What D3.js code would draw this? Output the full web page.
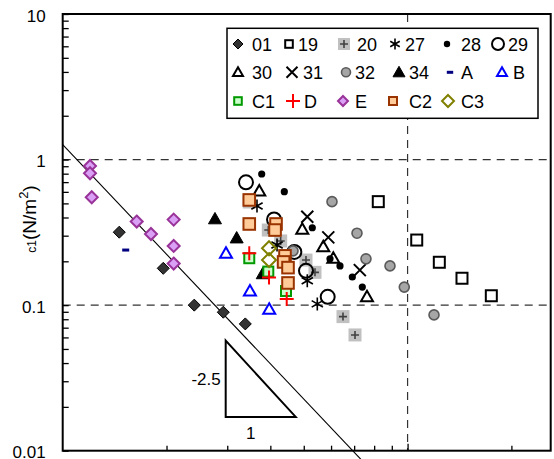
<!DOCTYPE html>
<html>
<head>
<meta charset="utf-8">
<script src="https://cdn.jsdelivr.net/npm/d3@7/dist/d3.min.js"></script>
<style>
  html, body { margin: 0; padding: 0; background: #fff; }
  svg { display: block; font-family: "Liberation Sans", Arial, sans-serif; }
</style>
</head>
<body>
<svg id="chart" width="554" height="459"></svg>
<script>
// ---- data: [x, c1] pairs per sample series ----
const s01 = [[1.459,0.317],[1.957,0.179],[2.407,0.100],[2.922,0.0894],[3.384,0.0743]];
const s19 = [[8.223,0.514],[10.63,0.280],[12.36,0.197],[14.38,0.153],[17.49,0.116]];
const s20 = [[3.475,0.511],[3.946,0.328],[4.286,0.276],[5.075,0.204],[5.389,0.168],[6.497,0.0834],[7.04,0.0624]];
const s27 = [[3.659,0.480],[4.183,0.259],[5.119,0.147],[5.473,0.102]];
const s28 = [[3.776,0.796],[4.391,0.602],[5.293,0.340],[5.957,0.208],[6.368,0.186],[6.914,0.156],[7.391,0.133]];
const s29 = [[3.40,0.698],[4.10,0.388],[4.695,0.232],[5.075,0.172],[5.866,0.114]];
const s30 = [[3.715,0.609],[4.951,0.332],[5.696,0.252],[6.09,0.210],[7.626,0.114]];
const s31 = [[5.119,0.405],[5.889,0.292],[7.27,0.174]];
const s32 = [[4.654,0.236],[6.037,0.514],[7.134,0.312],[7.575,0.208],[8.892,0.186],[9.782,0.133],[11.93,0.0857]];
const s34 = [[2.764,0.391],[3.195,0.289],[3.802,0.164]];
const sA  = [[1.523,0.239]];
const sB  = [[2.975,0.227],[3.491,0.125],[3.97,0.0937]];
const sC1 = [[3.475,0.210],[3.946,0.170],[4.441,0.125]];
const sD  = [[3.475,0.227],[3.965,0.155],[4.462,0.110]];
const sE  = [[1.20,0.904],[1.20,0.805],[1.214,0.551],[1.639,0.375],[1.803,0.308],[2.098,0.387],[2.098,0.255],[2.098,0.193]];
const sC2 = [[3.475,0.528],[3.475,0.361],[4.155,0.361],[4.128,0.328],[4.411,0.218],[4.37,0.198],[4.501,0.181],[4.501,0.142]];
const sC3 = [[3.965,0.246],[3.965,0.204]];

const seriesNames = ["01","19","20","27","28","29","30","31","32","34","A","B","C1","D","E","C2","C3"];
const seriesData  = [s01,s19,s20,s27,s28,s29,s30,s31,s32,s34,sA,sB,sC1,sD,sE,sC2,sC3];

// axis ticks
const yTickLabels = ["10","1","0.1","0.01"];
const yTickValues = [10,1,0.1,0.01];
const xTickValues = [2,3,4,5,6,7,8,9,10,20];

// power-law guide c1 = k * x^-2.5, and slope triangle
const guideCoef = 1.265, guideExp = -2.5;
const guideX = [1, 7.6];
const slopeTri = [[2.969,0.0571],[2.969,0.01706],[4.739,0.01706]];
const slopeLabels = ["-2.5","1"];

// ---- layout ----
const L = 62.7, R = 550.7, T = 14, B = 450.7;
const svg = d3.select("#chart");
const x = d3.scaleLog().domain([1,26]).range([L,R]);
const y = d3.scaleLog().domain([0.01,10]).range([B,T]);

// marker styles per series
const styles = {
  "01": {shape:"diamond", r:6, fill:"#333333", stroke:"#000", sw:1},
  "19": {shape:"square", r:5.5, fill:"#fff", stroke:"#000", sw:2},
  "20": {shape:"graysq", r:6.5},
  "27": {shape:"asterisk", r:6.5, stroke:"#000", sw:1.6},
  "28": {shape:"dot", r:3.6, fill:"#000"},
  "29": {shape:"circle", r:7, fill:"none", stroke:"#000", sw:2},
  "30": {shape:"triangle", r:6, fill:"none", stroke:"#000", sw:2},
  "31": {shape:"x", r:6, stroke:"#000", sw:2},
  "32": {shape:"circle", r:5, fill:"#a6a6a6", stroke:"#5a5a5a", sw:1.6},
  "34": {shape:"triangle", r:6.5, fill:"#000", stroke:"#000", sw:1},
  "A":  {shape:"dash", r:3.5, fill:"#000080"},
  "B":  {shape:"triangle", r:6, fill:"none", stroke:"#0000ff", sw:2},
  "C1": {shape:"square", r:5, fill:"#ccffcc", stroke:"#009900", sw:2},
  "D":  {shape:"plus", r:7, stroke:"#ff0000", sw:2},
  "E":  {shape:"diamond", r:6, fill:"#d9a0f5", stroke:"#993399", sw:2},
  "C2": {shape:"square", r:5.8, fill:"#ffcc99", stroke:"#993300", sw:2},
  "C3": {shape:"diamond", r:7, fill:"none", stroke:"#808000", sw:2}
};

// smaller symbols inside the legend
const legendSizes = {"01":5,"19":3.8,"20":6,"27":5.5,"28":3.2,"29":6,"30":5,"31":5.5,"32":4.5,
  "34":6,"A":3.2,"B":5,"C1":3.8,"D":7,"E":5,"C2":4,"C3":6};

function drawMarker(g, st) {
  const r = st.r;
  switch (st.shape) {
    case "diamond":
      g.append("path").attr("d",`M0,${-r}L${r},0L0,${r}L${-r},0Z`)
        .attr("fill",st.fill).attr("stroke",st.stroke).attr("stroke-width",st.sw);
      break;
    case "square":
      g.append("rect").attr("x",-r).attr("y",-r).attr("width",2*r).attr("height",2*r)
        .attr("fill",st.fill).attr("stroke",st.stroke).attr("stroke-width",st.sw);
      break;
    case "graysq":
      g.append("rect").attr("x",-r).attr("y",-r).attr("width",2*r).attr("height",2*r)
        .attr("fill","#c0c0c0");
      g.append("path").attr("d","M-4,0H4M0,-4V4").attr("stroke","#404040").attr("stroke-width",1.6);
      break;
    case "asterisk": {
      const a = r*Math.cos(Math.PI/6), b = r*Math.sin(Math.PI/6);
      g.append("path").attr("d",`M0,${-r}V${r}M${-a},${-b}L${a},${b}M${-a},${b}L${a},${-b}`)
        .attr("stroke",st.stroke).attr("stroke-width",st.sw).attr("fill","none");
      break;
    }
    case "dot":
      g.append("circle").attr("r",r).attr("fill",st.fill);
      break;
    case "circle":
      g.append("circle").attr("r",r).attr("fill",st.fill)
        .attr("stroke",st.stroke).attr("stroke-width",st.sw);
      break;
    case "triangle":
      g.append("path").attr("d",`M0,${-r*1.0}L${r},${r*0.75}L${-r},${r*0.75}Z`)
        .attr("fill",st.fill).attr("stroke",st.stroke).attr("stroke-width",st.sw)
        .attr("stroke-linejoin","miter");
      break;
    case "x":
      g.append("path").attr("d",`M${-r},${-r}L${r},${r}M${-r},${r}L${r},${-r}`)
        .attr("stroke",st.stroke).attr("stroke-width",st.sw);
      break;
    case "plus":
      g.append("path").attr("d",`M${-r},0H${r}M0,${-r}V${r}`)
        .attr("stroke",st.stroke).attr("stroke-width",st.sw);
      break;
    case "dash":
      g.append("rect").attr("x",-r).attr("y",-1.5).attr("width",2*r).attr("height",3)
        .attr("fill",st.fill);
      break;
  }
}

// dashed reference lines at c1 = 1, 0.1 and x = 10
const grid = svg.append("g").attr("stroke","#333").attr("stroke-width",1.2)
  .attr("stroke-dasharray","8,6").attr("fill","none");
[1,0.1].forEach(v => grid.append("line").attr("x1",L).attr("x2",R).attr("y1",y(v)).attr("y2",y(v)));
grid.append("line").attr("x1",x(10)).attr("x2",x(10)).attr("y1",T).attr("y2",B);

// power-law guide line
svg.append("line")
  .attr("x1",x(guideX[0])).attr("y1",y(guideCoef*Math.pow(guideX[0],guideExp)))
  .attr("x2",x(guideX[1])).attr("y2",y(guideCoef*Math.pow(guideX[1],guideExp)))
  .attr("stroke","#000").attr("stroke-width",1.1);

// slope triangle
svg.append("path")
  .attr("d", d3.line().x(d=>x(d[0])).y(d=>y(d[1]))(slopeTri) + "Z")
  .attr("fill","none").attr("stroke","#000").attr("stroke-width",2);
svg.append("text").attr("x",x(slopeTri[0][0])-5)
  .attr("y",(y(slopeTri[0][1])+y(slopeTri[1][1]))/2+6)
  .attr("text-anchor","end").attr("font-size",17).text(slopeLabels[0]);
svg.append("text").attr("x",(x(slopeTri[1][0])+x(slopeTri[2][0]))/2-10)
  .attr("y",y(slopeTri[1][1])+22)
  .attr("text-anchor","middle").attr("font-size",17).text(slopeLabels[1]);

// data points
const pts = svg.append("g");
seriesNames.forEach((name,i) => {
  seriesData[i].forEach(d => {
    const g = pts.append("g").attr("transform",`translate(${x(d[0])},${y(d[1])})`);
    drawMarker(g, styles[name]);
  });
});

// axes: ticks point inward
const yAxis = d3.axisLeft(y)
  .tickValues(y.ticks().filter(v => v >= 0.01 && v <= 10))
  .tickSizeInner(-6).tickSizeOuter(0).tickPadding(17)
  .tickFormat(v => { const k = yTickValues.indexOf(v); return k >= 0 ? yTickLabels[k] : ""; });
const ya = svg.append("g").attr("transform",`translate(${L},0)`).call(yAxis);
ya.select(".domain").remove();
ya.selectAll("line").attr("stroke","#000").attr("stroke-width",1.3);
ya.selectAll("text").attr("font-size",17).attr("font-family","Liberation Sans, Arial, sans-serif")
  .attr("fill","#000").attr("dy","0.42em");

const xAxis = d3.axisBottom(x).tickValues(xTickValues).tickSizeInner(-5).tickSizeOuter(0).tickFormat("");
const xa = svg.append("g").attr("transform",`translate(0,${B})`).call(xAxis);
xa.select(".domain").remove();
xa.selectAll("line").attr("stroke","#000").attr("stroke-width",1.3);
xa.selectAll(".tick").filter(d => d === 10).select("line").attr("y2",-7);

// plot frame
svg.append("rect").attr("x",L).attr("y",T).attr("width",R-L).attr("height",B-T)
  .attr("fill","none").attr("stroke","#000").attr("stroke-width",2);

// y-axis title
const yt = svg.append("text").attr("transform",`translate(36,219) rotate(-90)`)
  .attr("text-anchor","middle").attr("font-size",19);
yt.append("tspan").attr("font-size",12).text("c1");
yt.append("tspan").text("(N/m");
yt.append("tspan").attr("font-size",13).attr("dy",-8).text("2");
yt.append("tspan").attr("dy",8).text(")");

// legend
const legendLayout = [
  [0,238,252],[0,289,298],[0,344,357],[0,395,405],[0,447,461],[0,498,508],
  [1,238,252],[1,292,303],[1,346,355],[1,399,409],[1,450,461],[1,502,513],
  [2,238,252],[2,293,304],[2,343,355],[2,393,409],[2,448,461]
];
const rowY = [44, 72.3, 101];
const lg = svg.append("g");
lg.append("rect").attr("x",227).attr("y",28.3).attr("width",311).attr("height",90)
  .attr("fill","#fff").attr("stroke","#000").attr("stroke-width",1.5);
seriesNames.forEach((name,i) => {
  const [row,sx,tx] = legendLayout[i];
  const st = Object.assign({}, styles[name], {r: legendSizes[name]});
  const g = lg.append("g").attr("transform",`translate(${sx},${rowY[row]})`);
  drawMarker(g, st);
  lg.append("text").attr("x",tx).attr("y",rowY[row]+6.5).attr("font-size",18).text(name);
});
</script>
</body>
</html>
